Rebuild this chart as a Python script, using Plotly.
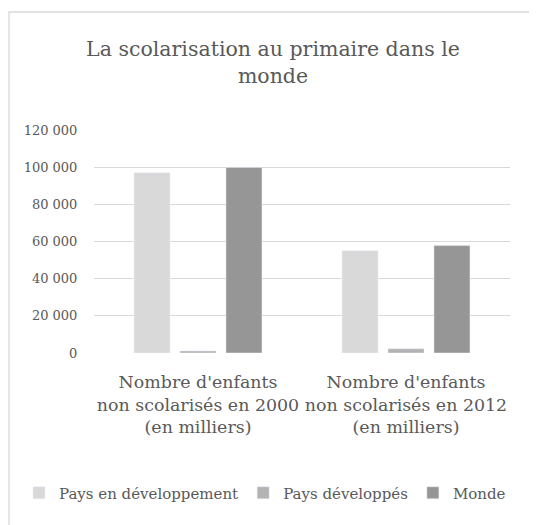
import plotly.graph_objects as go

categories = [
    "Nombre d'enfants<br>non scolarisés en 2000<br>(en milliers)",
    "Nombre d'enfants<br>non scolarisés en 2012<br>(en milliers)",
]
pays_en_dev = [97000, 55000]
pays_dev = [1100, 2300]
monde = [99800, 57800]
y_ticks = [0, 20000, 40000, 60000, 80000, 100000, 120000]
y_tick_text = ["0", "20 000", "40 000", "60 000", "80 000", "100 000", "120 000"]

FONT = "DejaVu Serif"
TEXT = "#595959"
GRID = "#d9d9d9"

OFF = 8  # page body margin
W, H = 537 - OFF, 525 - OFF
L, R, T, B = 94 - OFF, 27, 130 - OFF, 172
pw, ph = W - L - R, H - T - B

fig = go.Figure()
fig.add_trace(go.Bar(x=categories, y=pays_en_dev, name="Pays en développement", marker_color="#d9d9d9"))
fig.add_trace(go.Bar(x=categories, y=pays_dev, name="Pays développés", marker_color="#b3b3b3"))
fig.add_trace(go.Bar(x=categories, y=monde, name="Monde", marker_color="#969696"))

# chart frame (only top/left edges visible in crop)
fig.add_shape(
    type="rect", xref="paper", yref="paper",
    x0=(1 - L) / pw, x1=(W + 20 - L) / pw,
    y0=-(B + 20) / ph, y1=(H - B - (12 - OFF)) / ph,
    line=dict(color="#d9d9d9", width=1.3), fillcolor="rgba(0,0,0,0)", layer="below",
)

fig.update_layout(
    width=W,
    height=H,
    margin=dict(l=L, r=R, t=T, b=B, autoexpand=False),
    paper_bgcolor="white",
    plot_bgcolor="white",
    font=dict(family=FONT, color=TEXT),
    title=dict(
        text="La scolarisation au primaire dans le<br>monde",
        x=(273 - OFF) / W, xanchor="center",
        y=1 - (56 - OFF) / H, yanchor="middle",
        font=dict(size=20.5, family=FONT, color=TEXT),
    ),
    barmode="group",
    bargap=0.337,
    bargroupgap=0.217,
    showlegend=True,
    legend=dict(
        orientation="h",
        x=(19 - OFF - L) / pw, xanchor="left",
        y=(H - B - (493 - OFF)) / ph, yanchor="middle",
        font=dict(size=15, family=FONT, color=TEXT),
        itemclick=False,
    ),
)
fig.update_yaxes(
    range=[0, 120000],
    tickvals=y_ticks,
    ticktext=y_tick_text,
    showgrid=True,
    gridcolor=GRID,
    gridwidth=1.3,
    zeroline=False,
    showline=False,
    ticks="outside",
    ticklen=13,
    tickcolor="rgba(0,0,0,0)",
    tickfont=dict(size=13, family=FONT, color=TEXT),
    automargin=False,
    fixedrange=True,
)
fig.update_xaxes(
    showgrid=False,
    showline=False,
    ticks="outside",
    ticklen=13,
    tickcolor="rgba(0,0,0,0)",
    tickfont=dict(size=17.4, family=FONT, color=TEXT),
    tickangle=0,
    automargin=False,
    fixedrange=True,
)

fig.write_html("out.html", config={"displayModeBar": False})
